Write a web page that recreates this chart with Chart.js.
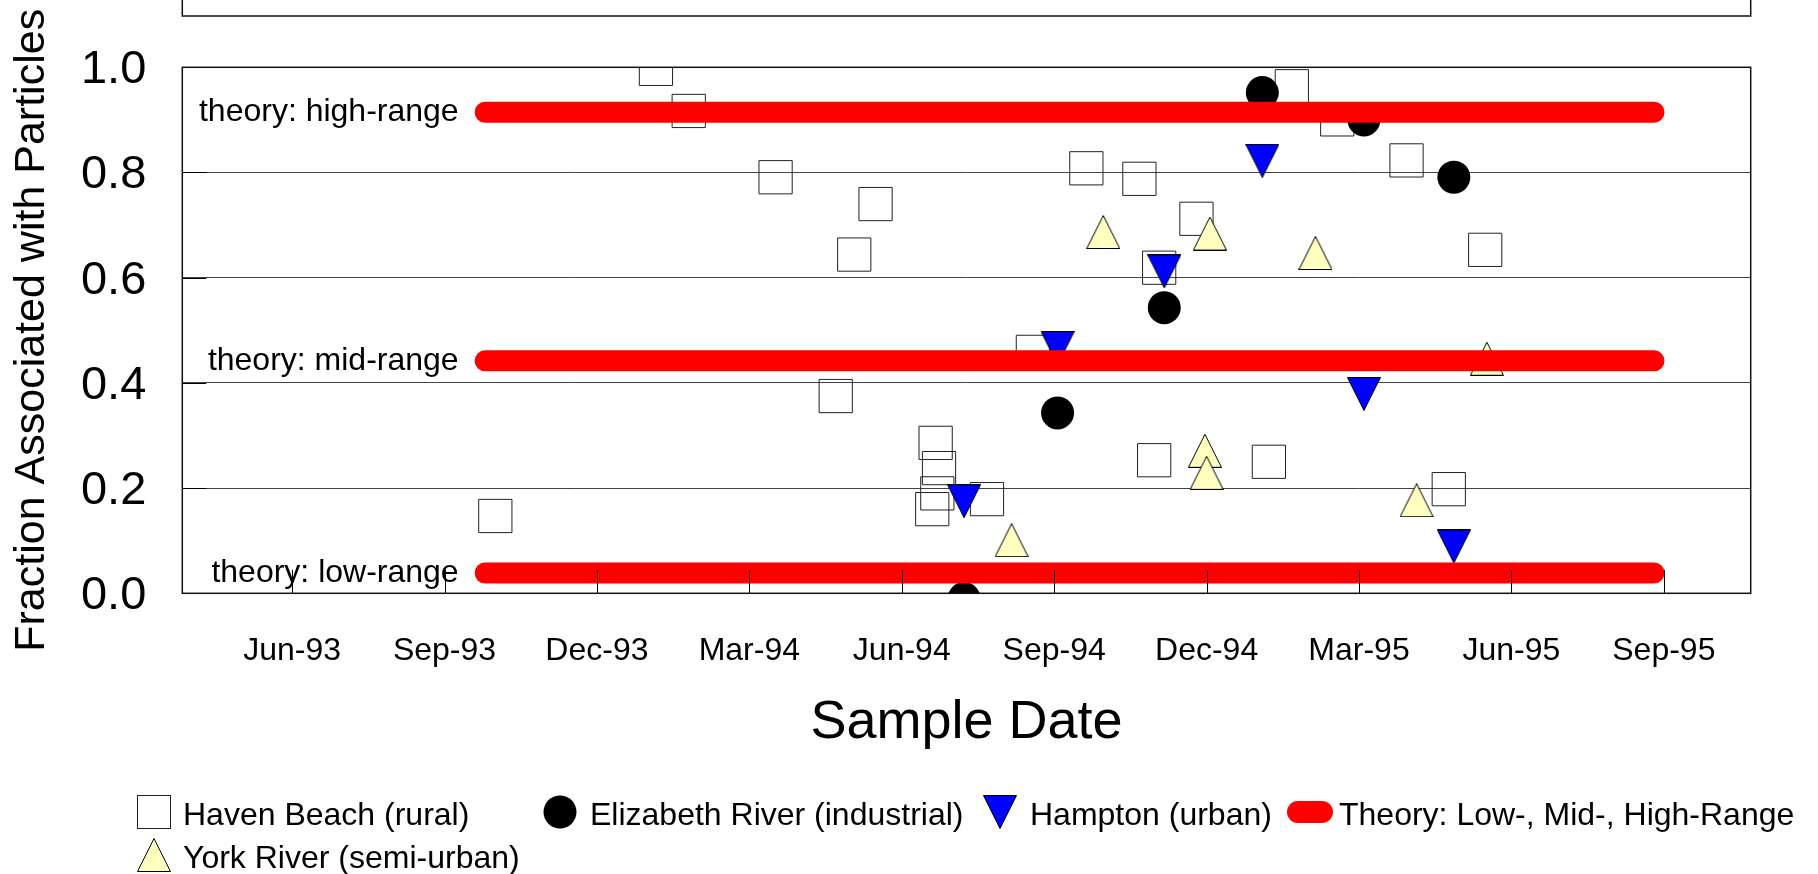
<!DOCTYPE html>
<html>
<head>
<meta charset="utf-8">
<script src="https://cdn.jsdelivr.net/npm/chart.js@4/dist/chart.umd.min.js"></script>
<style>
html,body{margin:0;padding:0;background:#fff;overflow:hidden}
#wrap{width:1818px;height:874px;position:relative}
</style>
</head>
<body>
<div id="wrap"><canvas id="c" width="1818" height="874"></canvas></div>
<script>
// ---------------- data ----------------
const tickDates  = ['1993-06-01','1993-09-01','1993-12-01','1994-03-01','1994-06-01','1994-09-01','1994-12-01','1995-03-01','1995-06-01','1995-09-01'];
const tickLabels = ['Jun-93','Sep-93','Dec-93','Mar-94','Jun-94','Sep-94','Dec-94','Mar-95','Jun-95','Sep-95'];
const xRange = ['1993-03-27','1995-10-23'];
const yTickLabels = ['0.0','0.2','0.4','0.6','0.8','1.0'];

const havenDates  = ['1993-10-01','1994-01-06','1994-01-26','1994-03-17','1994-04-22','1994-05-03','1994-05-16','1994-06-19','1994-06-21','1994-06-22','1994-06-23','1994-07-22','1994-08-19','1994-09-20','1994-10-22','1994-10-31','1994-11-03','1994-11-25','1995-01-08','1995-01-22','1995-02-17','1995-03-30','1995-04-24','1995-05-16'];
const havenValues = [0.147,0.997,0.917,0.791,0.375,0.644,0.740,0.160,0.286,0.190,0.238,0.179,0.459,0.808,0.788,0.253,0.619,0.712,0.250,0.964,0.901,0.823,0.198,0.653];

const elizabethDates  = ['1994-07-08','1994-09-03','1994-11-06','1995-01-04','1995-03-04','1995-04-27'];
const elizabethValues = [-0.01,0.343,0.543,0.952,0.900,0.791];

const hamptonDates  = ['1994-07-08','1994-09-03','1994-11-06','1995-01-04','1995-03-04','1995-04-27'];
const hamptonValues = [0.175,0.466,0.612,0.822,0.379,0.089];

const yorkDates  = ['1994-08-06','1994-09-30','1994-11-30','1994-12-01','1994-12-03','1995-02-05','1995-04-05','1995-05-17'];
const yorkValues = [0.101,0.687,0.271,0.229,0.684,0.647,0.177,0.446];

const theoryLabels = ['theory: low-range','theory: mid-range','theory: high-range'];
const theoryValues = [0.0386,0.442,0.9145];
const theorySpan   = ['1993-09-25','1995-08-26'];

const seriesNames = ['Haven Beach (rural)','Elizabeth River (industrial)','Hampton (urban)','Theory: Low-, Mid-, High-Range','York River (semi-urban)'];
const xTitle = 'Sample Date';
const yTitle = 'Fraction Associated with Particles';

// ---------------- helpers ----------------
function toMonths(s){
  const [y,m,d] = s.split('-').map(Number);
  const dim = new Date(y, m, 0).getDate();
  return (y-1993)*12 + (m-1) + (d-1)/dim;
}
function pts(dates, vals){ return dates.map((d,i)=>({x:toMonths(d), y:vals[i]})); }

function triImg(down, fill){
  const c = document.createElement('canvas'); c.width = 34; c.height = 34;
  const g = c.getContext('2d');
  g.beginPath();
  if (down){ g.moveTo(0.5,0.5); g.lineTo(33.5,0.5); g.lineTo(17,33.5); }
  else     { g.moveTo(17,0.5); g.lineTo(33.5,33.5); g.lineTo(0.5,33.5); }
  g.closePath(); g.fillStyle = fill; g.fill();
  g.lineWidth = 1; g.strokeStyle = '#000'; g.stroke();
  return c;
}
const downTri = triImg(true, '#0000FF');
const upTri   = triImg(false, '#FFFFC0');

const FONT = '"Liberation Sans", Arial, Helvetica, sans-serif';
Chart.defaults.font.family = FONT;
Chart.defaults.color = '#000';

// ---------------- decorations ----------------
const legendLayout = [
  {cx:154,  tx:183,  cy:812, marker:'square'},
  {cx:560,  tx:590,  cy:812, marker:'circle'},
  {cx:1000, tx:1030, cy:812, marker:'down'},
  {cx:1310, tx:1339, cy:812, marker:'pill'},
  {cx:154,  tx:183,  cy:855, marker:'up'}
];

const decor = {
  id:'decor',
  beforeDraw(chart){
    const c = chart.ctx; c.save(); c.fillStyle = '#fff'; c.fillRect(0,0,chart.width,chart.height); c.restore();
  },
  afterDatasetsDraw(chart){
    const c = chart.ctx, a = chart.chartArea, xs = chart.scales.x, ys = chart.scales.y;
    c.save();
    // theory labels
    c.font = '32px ' + FONT; c.fillStyle = '#000'; c.textAlign = 'right'; c.textBaseline = 'middle';
    const lx = xs.getPixelForValue(toMonths(theorySpan[0])) - 26.5;
    theoryValues.forEach((v,i)=>{ c.fillText(theoryLabels[i], lx, ys.getPixelForValue(v)); });
    // inside tick marks
    c.strokeStyle = '#000'; c.lineWidth = 1;
    c.beginPath();
    xs.ticks.forEach(t=>{ const px = Math.round(xs.getPixelForValue(t.value))+0.5; c.moveTo(px, a.bottom); c.lineTo(px, a.bottom-23.5); });
    ys.ticks.forEach(t=>{ const py = Math.round(ys.getPixelForValue(t.value))+0.5; c.moveTo(a.left, py); c.lineTo(a.left+24, py); });
    c.stroke();
    // frame
    c.lineWidth = 1.5; c.strokeStyle = '#111';
    c.strokeRect(a.left, a.top, a.right-a.left, a.bottom-a.top);
    // top panel edge
    c.beginPath(); c.moveTo(a.left, -2); c.lineTo(a.left, 16); c.lineTo(a.right, 16); c.lineTo(a.right, -2); c.stroke();
    c.restore();
  },
  afterDraw(chart){
    const c = chart.ctx; c.save();
    c.font = '32px ' + FONT; c.textAlign = 'left'; c.textBaseline = 'middle';
    legendLayout.forEach((L,i)=>{
      const x = L.cx, y = L.cy;
      if (L.marker==='square'){ c.strokeStyle='#222'; c.lineWidth=1; c.strokeRect(x-16.5, y-16.5, 33, 33); }
      else if (L.marker==='circle'){ c.fillStyle='#000'; c.beginPath(); c.arc(x,y,16.5,0,Math.PI*2); c.fill(); }
      else if (L.marker==='down'){ c.drawImage(downTri, x-17, y-17); }
      else if (L.marker==='up'){ c.drawImage(upTri, x-17, y-17); }
      else if (L.marker==='pill'){ c.strokeStyle='#FF0000'; c.lineWidth=22; c.lineCap='round'; c.beginPath(); c.moveTo(x-12,y); c.lineTo(x+12,y); c.stroke(); }
      c.fillStyle = '#000';
      c.fillText(seriesNames[i], L.tx, y+4);
    });
    c.restore();
  }
};

// ---------------- chart ----------------
const theoryStart = toMonths(theorySpan[0]), theoryEnd = toMonths(theorySpan[1]);
const theorySets = theoryValues.map((v,i)=>({
  type:'line', label: theoryLabels[i],
  data:[{x:theoryStart,y:v},{x:theoryEnd,y:v}],
  borderColor:'#FF0000', borderWidth:21, borderCapStyle:'round',
  pointRadius:0, fill:false, order:0, clip:0
}));

new Chart(document.getElementById('c'), {
  type:'scatter',
  data:{ datasets:[
    { label:seriesNames[0], data:pts(havenDates,havenValues), pointStyle:'rect', pointRadius:23.5, pointHoverRadius:23.5,
      backgroundColor:'rgba(0,0,0,0)', borderColor:'#222', borderWidth:1, order:4, clip:0 },
    { label:seriesNames[1], data:pts(elizabethDates,elizabethValues), pointStyle:'circle', pointRadius:16.5, pointHoverRadius:16.5,
      backgroundColor:'#000', borderColor:'#000', borderWidth:0, order:3, clip:0 },
    { label:seriesNames[2], data:pts(hamptonDates,hamptonValues), pointStyle:downTri, pointRadius:17, pointHoverRadius:17,
      backgroundColor:'#0000FF', borderColor:'#000', borderWidth:0, order:2, clip:0 },
    { label:seriesNames[4], data:pts(yorkDates,yorkValues), pointStyle:upTri, pointRadius:17, pointHoverRadius:17,
      backgroundColor:'#FFFFC0', borderColor:'#000', borderWidth:0, order:1, clip:0 },
    ...theorySets
  ]},
  options:{
    responsive:false, animation:false, devicePixelRatio:1,
    events:[],
    layout:{ padding:{ left:0, right:67.3, top:67.3, bottom:115.7 } },
    plugins:{ legend:{display:false}, tooltip:{enabled:false}, title:{display:false} },
    scales:{
      x:{ type:'linear', min:toMonths(xRange[0]), max:toMonths(xRange[1]),
          grid:{ display:false, drawTicks:false }, border:{ display:false },
          afterBuildTicks:(s)=>{ s.ticks = tickDates.map(d=>({value:toMonths(d)})); },
          ticks:{ autoSkip:false, maxRotation:0, minRotation:0, padding:39, color:'#000',
                  font:{ size:32, family:FONT }, callback:(v,i)=>tickLabels[i] },
          title:{ display:true, text:xTitle, color:'#000', font:{ size:54, family:FONT }, padding:{ top:0, bottom:3 } },
          afterFit:(s)=>{ s.height = 165; } },
      y:{ min:0, max:1,
          ticks:{ stepSize:0.2, padding:36, labelOffset:3, color:'#000', font:{ size:47, family:FONT },
                  callback:(v,i)=>yTickLabels[i] },
          grid:{ color:'#444', lineWidth:1, drawTicks:false }, border:{ display:false },
          title:{ display:true, text:yTitle, color:'#000', font:{ size:43, family:FONT }, padding:{ top:6.5, bottom:0 } },
          afterFit:(s)=>{ s.width = 182.3; } }
    }
  },
  plugins:[decor]
});
</script>
</body>
</html>
